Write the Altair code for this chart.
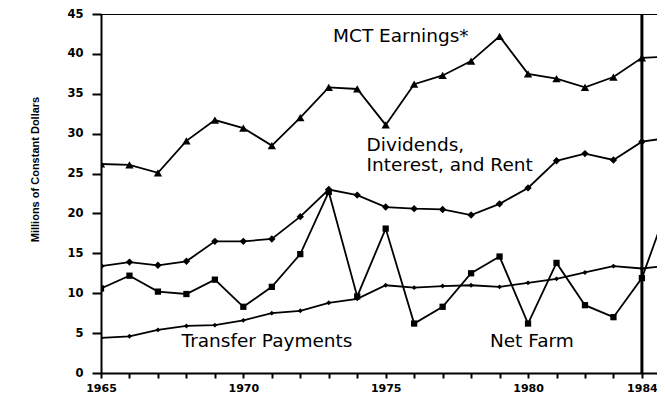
import altair as alt
import pandas as pd

# ---- data ----
years = list(range(1965, 1986))
mct_earnings = [26.2, 26.1, 25.1, 29.1, 31.7, 30.7, 28.5, 32.0, 35.8, 35.6, 31.1,
                36.2, 37.3, 39.1, 42.2, 37.5, 36.9, 35.8, 37.1, 39.5, 39.7]
dividends = [13.4, 13.9, 13.5, 14.0, 16.5, 16.5, 16.8, 19.6, 23.0, 22.3, 20.8,
             20.6, 20.5, 19.8, 21.2, 23.2, 26.6, 27.5, 26.7, 29.0, 29.5]
net_farm = [10.6, 12.2, 10.2, 9.9, 11.7, 8.3, 10.8, 14.9, 22.7, 9.6, 18.1,
            6.2, 8.3, 12.5, 14.6, 6.2, 13.8, 8.5, 7.0, 11.9, 21.8]
transfer = [4.4, 4.6, 5.4, 5.9, 6.0, 6.6, 7.5, 7.8, 8.8, 9.3, 11.0,
            10.7, 10.9, 11.0, 10.8, 11.3, 11.8, 12.6, 13.4, 13.1, 13.5]

series_names = ["MCT Earnings", "Dividends", "Net Farm", "Transfer Payments"]
series_shapes = ["triangle-up", "diamond", "square", "diamond"]
series_sizes = [70, 24, 75, 24]

tick_years = list(range(1965, 1985))
label_years = [1965, 1970, 1975, 1980, 1984]
marker_year = [1984]

ann_text = ["MCT Earnings*", "Dividends,", "Interest, and Rent", "Transfer Payments", "Net Farm"]
ann_x = [1973.15, 1974.33, 1974.33, 1967.83, 1978.66]
ann_y = [41.55, 27.84, 25.37, 3.26, 3.26]

# ---- tables ----
rows = []
for name, vals in zip(series_names, [mct_earnings, dividends, net_farm, transfer]):
    for yr, v in zip(years, vals):
        rows.append({"year": yr, "value": v, "series": name})
df = pd.DataFrame(rows)
ann = pd.DataFrame({"text": ann_text, "year": ann_x, "value": ann_y})
vline = pd.DataFrame({"year": marker_year, "value": [0], "value2": [45]})
top = pd.DataFrame({"year": [1965], "year2": [1990], "value": [45]})

XMAX = 1984.53
xscale = alt.Scale(domain=[1965, XMAX], nice=False, zero=False)
yscale = alt.Scale(domain=[0, 45], nice=False)

label_expr = "indexof(" + str(label_years) + ", datum.value) >= 0 ? toString(datum.value) : ''"

xaxis = alt.Axis(values=tick_years, labelExpr=label_expr, title=None,
                 grid=False, tickSize=5, tickWidth=2, domainWidth=2,
                 domainColor="black", tickColor="black",
                 labelFont="DejaVu Sans", labelFontWeight="bold",
                 labelFontSize=11, labelColor="black", labelPadding=4,
                 labelFlush=False, labelOverlap=False)
yaxis = alt.Axis(values=[0, 5, 10, 15, 20, 25, 30, 35, 40, 45],
                 title="Millions of Constant Dollars", grid=False,
                 tickSize=9, tickWidth=2, domainWidth=2,
                 domainColor="black", tickColor="black",
                 labelFont="DejaVu Sans", labelFontWeight="bold",
                 labelFontSize=11.5, labelColor="black", labelPadding=9,
                 labelOverlap=False,
                 titleFont="Liberation Sans", titleFontWeight="bold",
                 titleFontSize=11, titleColor="black",
                 titleX=-66, titleY=155, titleAngle=270,
                 titleAlign="center", titleBaseline="middle")


def X(field="year"):
    return alt.X(field + ":Q", scale=xscale, axis=xaxis)


def Y(field="value"):
    return alt.Y(field + ":Q", scale=yscale, axis=yaxis)


lines = alt.Chart(df).mark_line(color="black", strokeWidth=1.8, clip=True).encode(
    x=X(), y=Y(), detail="series:N")

points = alt.Chart(df).mark_point(filled=True, color="black", opacity=1, clip=True).encode(
    x=X(), y=Y(),
    shape=alt.Shape("series:N", scale=alt.Scale(domain=series_names, range=series_shapes), legend=None),
    size=alt.Size("series:N", scale=alt.Scale(domain=series_names, range=series_sizes), legend=None))

rule = alt.Chart(vline).mark_rule(color="black", strokeWidth=3).encode(
    x=X(), y=Y(), y2="value2:Q")

toprule = alt.Chart(top).mark_rule(color="black", strokeWidth=2, clip=True).encode(
    x=X(), x2="year2:Q", y=Y())

labels = alt.Chart(ann).mark_text(align="left", baseline="alphabetic", font="DejaVu Sans",
                                  fontSize=18.5, color="black").encode(
    x=X(), y=Y(), text="text:N")

chart = alt.layer(toprule, lines, points, rule, labels).properties(
    width=556, height=359,
    autosize=alt.AutoSizeParams(type="none"),
    padding={"left": 93, "top": 6, "right": 0, "bottom": 22},
).configure_view(stroke=None).configure(background="white")

chart.save("out.html", embed_options={"renderer": "svg", "actions": False})
